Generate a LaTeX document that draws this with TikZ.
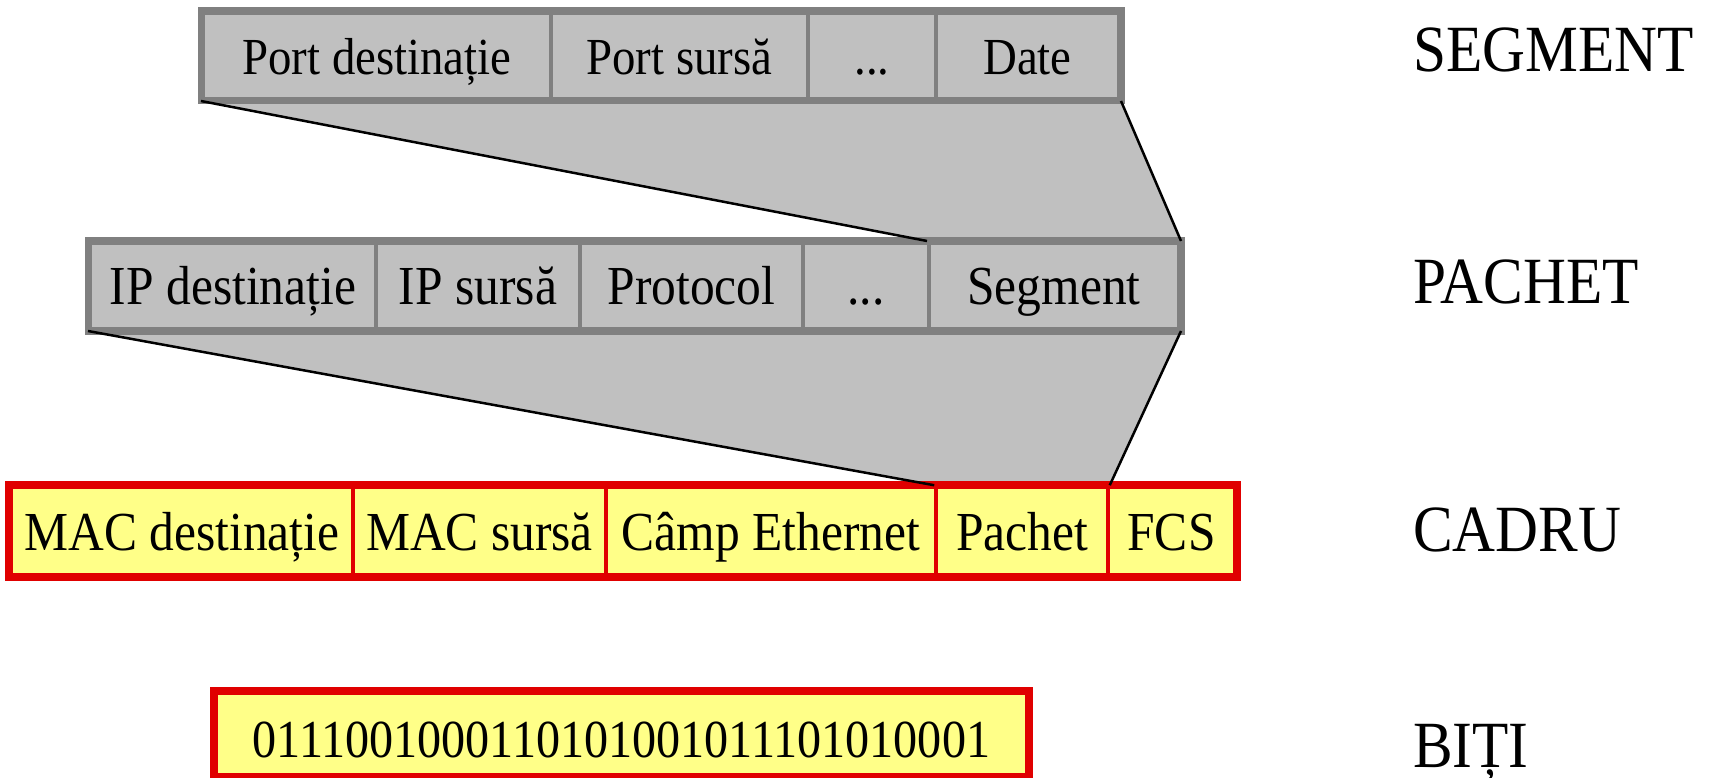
\documentclass[tikz,border=0pt]{standalone}
\usepackage{fontspec}
\setmainfont{Liberation Serif}[FakeStretch=0.9]
\usetikzlibrary{backgrounds}
\definecolor{cellfill}{RGB}{192,192,192}
\definecolor{cellline}{RGB}{128,128,128}
\definecolor{framefill}{RGB}{255,255,136}
\definecolor{framered}{RGB}{224,0,0}
\begin{document}
\begin{tikzpicture}[x=1pt,y=-1pt,
  celltext/.style={inner sep=0pt, text height=44pt, text depth=6pt},
  gcell/.style={celltext, draw=cellline, line width=4pt, fill=cellfill},
  ycell/.style={celltext, draw=framered, line width=3.5pt, fill=framefill,
    font=\fontsize{55}{58}\selectfont},
  segtext/.style={font=\fontsize{52}{56}\selectfont},
  pactext/.style={font=\fontsize{55}{58}\selectfont},
  gframe/.style={draw=cellline, line width=7pt},
  rframe/.style={draw=framered, line width=8pt},
  link/.style={draw=black, line width=2.5pt},
  tube/.style={fill=cellfill},
  layer/.style={anchor=base west, inner sep=0pt, font=\fontsize{66}{70}\selectfont}]
\useasboundingbox (0,0) rectangle (1717,778);

% SEGMENT
\node[gcell, segtext, minimum width=348pt, minimum height=86pt] (s1) at (377,56) {Port destinație};
\node[gcell, segtext, minimum width=257pt, minimum height=86pt] (s2) at (679.5,56) {Port sursă};
\node[gcell, segtext, minimum width=128pt, minimum height=86pt] (s3) at (872,56) {...};
\node[gcell, segtext, minimum width=183pt, minimum height=86pt] (s4) at (1027.5,56) {Date};
\draw[gframe] (s1.north west) rectangle (s4.south east);

% PACHET
\node[gcell, pactext, minimum width=286pt, minimum height=86pt] (p1) at (233,286) {IP destinație};
\node[gcell, pactext, minimum width=204pt, minimum height=86pt] (p2) at (478,286) {IP sursă};
\node[gcell, pactext, minimum width=223pt, minimum height=86pt] (p3) at (691.5,286) {Protocol};
\node[gcell, pactext, minimum width=126pt, minimum height=86pt] (p4) at (866,286) {...};
\node[gcell, pactext, minimum width=250pt, minimum height=86pt] (p5) at (1054,286) {Segment};
\draw[gframe] (p1.north west) rectangle (p5.south east);

% CADRU
\node[ycell, minimum width=342pt, minimum height=88pt] (c1) at (182,531) {MAC destinație};
\node[ycell, minimum width=253pt, minimum height=88pt] (c2) at (479.5,531) {MAC sursă};
\node[ycell, minimum width=330pt, minimum height=88pt] (c3) at (771,531) {Câmp Ethernet};
\node[ycell, minimum width=172pt, minimum height=88pt] (c4) at (1022,531) {Pachet};
\node[ycell, minimum width=127pt, minimum height=88pt] (c5) at (1171.5,531) {FCS};
\draw[rframe] (c1.north west) rectangle (c5.south east);

% BITI
\node[ycell, font=\fontsize{53.5}{56}\selectfont, text height=48pt, text depth=2pt,
  minimum width=811pt, minimum height=82pt] (b1) at (621.5,734) {0111001000110101001011101010001};
\draw[rframe] (b1.north west) rectangle (b1.south east);

% encapsulation tubes
\begin{scope}[on background layer]
  \fill[tube] (s1.south west) -- (s4.south east) -- (p5.north east) -- (p5.north west) -- cycle;
  \fill[tube] (p1.south west) -- (p5.south east) -- (c4.north east) -- (c4.north west) -- cycle;
\end{scope}
\draw[link] (s1.south west) -- (p5.north west);
\draw[link] (s4.south east) -- (p5.north east);
\draw[link] (p1.south west) -- (c4.north west);
\draw[link] (p5.south east) -- (c4.north east);

% layer names
\node[layer] (lseg) at (1413,72) {SEGMENT};
\node[layer] (lpac) at (1413,304) {PACHET};
\node[layer] (lcad) at (1413,551) {CADRU};
\node[layer] (lbit) at (1413,767) {BIȚI};
\end{tikzpicture}
\end{document}
